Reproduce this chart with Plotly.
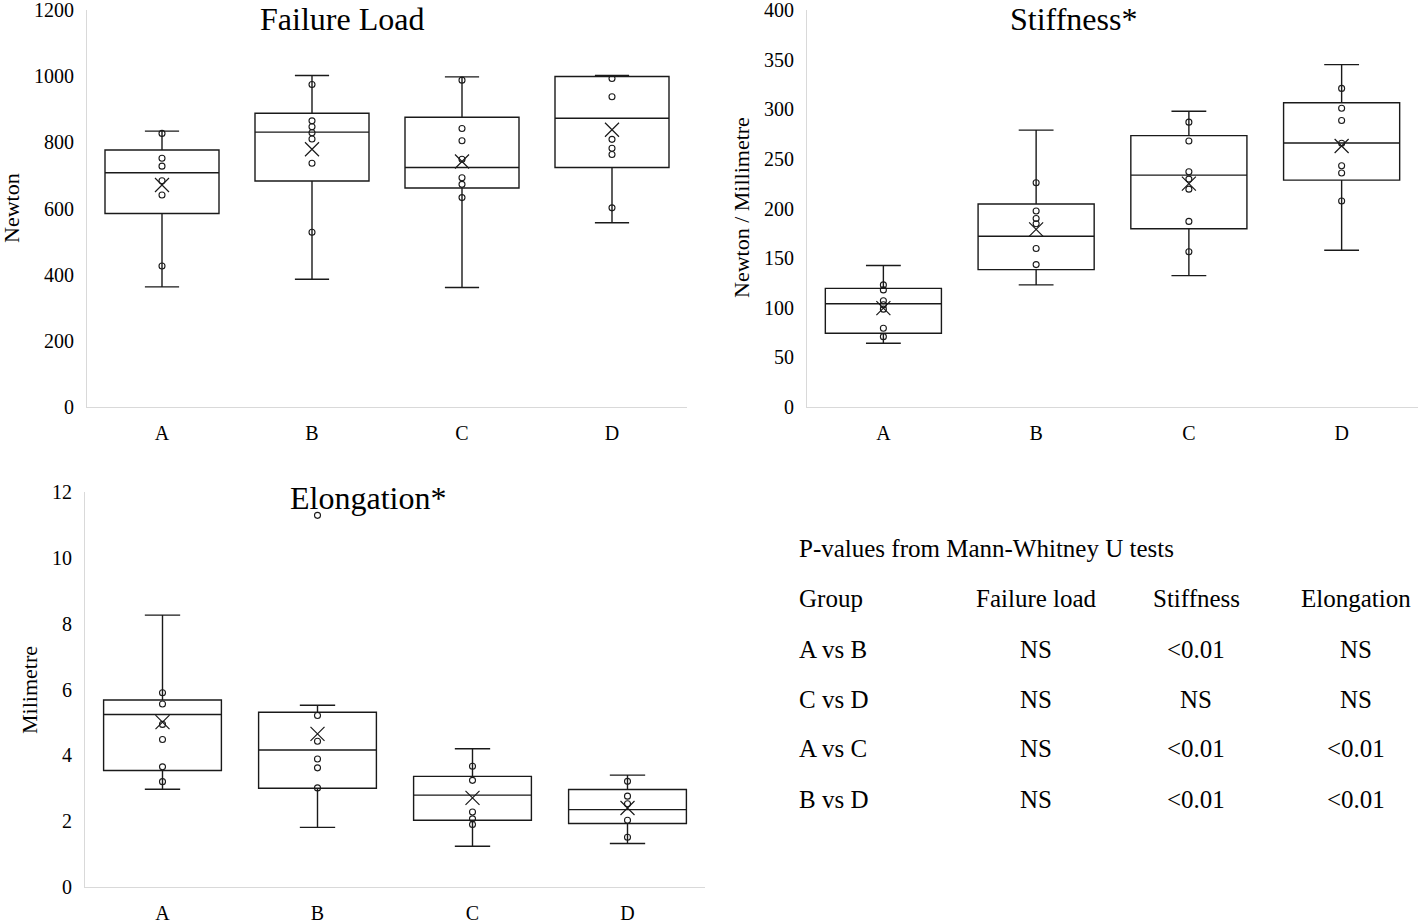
import plotly.graph_objects as go

groups = ["A", "B", "C", "D"]

# Failure load (Newton)
fl_q1 = [585, 683, 662, 724]
fl_median = [708, 831, 724, 873]
fl_q3 = [777, 888, 876, 999]
fl_low = [363, 386, 361, 557]
fl_high = [834, 1002, 998, 1002]
fl_mean = [671, 779, 742, 838]
fl_points = {
    "A": [827, 752, 728, 684, 641, 426],
    "B": [975, 865, 847, 829, 810, 737, 528],
    "C": [988, 842, 805, 749, 693, 673, 633],
    "D": [993, 938, 809, 782, 763, 602],
}

# Stiffness (Newton / Millimetre)
st_q1 = [74.3, 138.4, 179.6, 228.6]
st_median = [104, 172, 233.6, 266]
st_q3 = [119.5, 204.6, 273.4, 306.5]
st_low = [64.2, 123, 132.4, 158]
st_high = [142.5, 279, 298, 345]
st_mean = [99.6, 179, 225, 263]
st_points = {
    "A": [123, 118, 107, 103, 98.6, 79.4, 70.9],
    "B": [226, 197.5, 190, 184.7, 159.7, 143.5],
    "C": [287, 268, 237, 229.6, 219.5, 187, 156.4],
    "D": [321, 301, 288.6, 265.7, 243, 235.7, 207.6],
}

# Elongation (Millimetre)
el_q1 = [3.54, 3.00, 2.03, 1.93]
el_median = [5.24, 4.16, 2.79, 2.35]
el_q3 = [5.68, 5.31, 3.36, 2.96]
el_low = [2.97, 1.81, 1.24, 1.32]
el_high = [8.26, 5.52, 4.20, 3.40]
el_mean = [5.01, 4.65, 2.71, 2.40]
el_points = {
    "A": [5.90, 5.56, 4.94, 4.48, 3.65, 3.20],
    "B": [11.29, 5.21, 4.43, 3.89, 3.62, 3.01],
    "C": [3.67, 3.24, 2.28, 2.07, 1.90],
    "D": [3.21, 2.76, 2.53, 2.03, 1.51],
}

# P-value table
table_title = "P-values from Mann-Whitney U tests"
table_header = ["Group", "Failure load", "Stiffness", "Elongation"]
table_rows = [
    ["A vs B", "NS", "<0.01", "NS"],
    ["C vs D", "NS", "NS", "NS"],
    ["A vs C", "NS", "<0.01", "<0.01"],
    ["B vs D", "NS", "<0.01", "<0.01"],
]

W, H = 1418, 923
FONT = "Liberation Serif"

fig = go.Figure()

panels = [
    ("x", "y", fl_q1, fl_median, fl_q3, fl_low, fl_high, fl_mean, fl_points),
    ("x2", "y2", st_q1, st_median, st_q3, st_low, st_high, st_mean, st_points),
    ("x3", "y3", el_q1, el_median, el_q3, el_low, el_high, el_mean, el_points),
]

for xa, ya, q1, med, q3, lo, hi, mean, pts in panels:
    fig.add_trace(go.Box(
        x=groups, q1=q1, median=med, q3=q3, lowerfence=lo, upperfence=hi,
        boxpoints=False, whiskerwidth=0.3, fillcolor="white", width=0.76,
        line=dict(color="#1a1a1a", width=1.4),
        xaxis=xa, yaxis=ya, showlegend=False, hoverinfo="skip",
    ))
    px, py = [], []
    for g in groups:
        for v in pts[g]:
            px.append(g)
            py.append(v)
    fig.add_trace(go.Scatter(
        x=px, y=py, mode="markers", xaxis=xa, yaxis=ya, showlegend=False,
        marker=dict(symbol="circle-open", size=6, color="#1a1a1a", line=dict(width=1.1)),
    ))
    fig.add_trace(go.Scatter(
        x=groups, y=mean, mode="markers", xaxis=xa, yaxis=ya, showlegend=False,
        marker=dict(symbol="x-thin-open", size=14, color="#1a1a1a", line=dict(width=1.2, color="#1a1a1a")),
    ))

def px2x(p):
    return p / W

def px2y(p):
    return 1 - p / H

axis_common = dict(showline=True, linecolor="#d9d9d9", linewidth=1, showgrid=False,
                   zeroline=False, ticks="", automargin=False, ticklabeloverflow="allow",
                   tickfont=dict(family=FONT, size=20, color="black"))
x_common = dict(type="category", range=[-0.5, 3.5], ticklabelstandoff=8, **axis_common)

layout = dict(
    width=W, height=H, margin=dict(l=0, r=0, t=0, b=0, autoexpand=False),
    paper_bgcolor="white", plot_bgcolor="white", boxgap=0.24, boxgroupgap=0,
    font=dict(family=FONT, color="black"),
    xaxis=dict(domain=[px2x(87), px2x(687)], anchor="y", **x_common),
    yaxis=dict(domain=[px2y(407), px2y(10)], anchor="x", range=[0, 1200], dtick=200,
               ticklabelstandoff=8, **axis_common),
    xaxis2=dict(domain=[px2x(807), px2x(1418)], anchor="y2", **x_common),
    yaxis2=dict(domain=[px2y(407), px2y(10)], anchor="x2", range=[0, 400], dtick=50,
                ticklabelstandoff=8, **axis_common),
    xaxis3=dict(domain=[px2x(85), px2x(705)], anchor="y3", **x_common),
    yaxis3=dict(domain=[px2y(887), px2y(492)], anchor="x3", range=[0, 12], dtick=2,
                ticklabelstandoff=8, **axis_common),
)
fig.update_layout(**layout)

ann = []
def add_text(text, x, y, size, xanchor="center", angle=0):
    ann.append(dict(text=text, x=px2x(x), y=px2y(y), xref="paper", yref="paper",
                    xanchor=xanchor, yanchor="middle", showarrow=False, textangle=angle,
                    borderpad=0, font=dict(family=FONT, size=size, color="black")))

# Titles
add_text("Failure Load", 342, 19, 32)
add_text("Stiffness*", 1073, 19, 32)
add_text("Elongation*", 368, 498, 32)
# Axis titles
add_text("Newton", 11, 208, 22, angle=-90)
add_text("Newton / Millimetre", 741, 208, 22, angle=-90)
add_text("Milimetre", 29, 690, 22, angle=-90)

# Table
add_text(table_title, 798, 548, 25, xanchor="left")
col_x = [798, 1036, 1196, 1356]
row_y = [598, 649, 699, 748, 799]
for j, h in enumerate(table_header):
    add_text(h, col_x[j], row_y[0], 25, xanchor="left" if j == 0 else "center")
for i, row in enumerate(table_rows):
    for j, cell in enumerate(row):
        add_text(cell, col_x[j], row_y[i + 1], 25, xanchor="left" if j == 0 else "center")

fig.update_layout(annotations=ann)
fig.write_html("out.html", config={"displayModeBar": False},
               post_script="document.body.style.margin='0px';")
